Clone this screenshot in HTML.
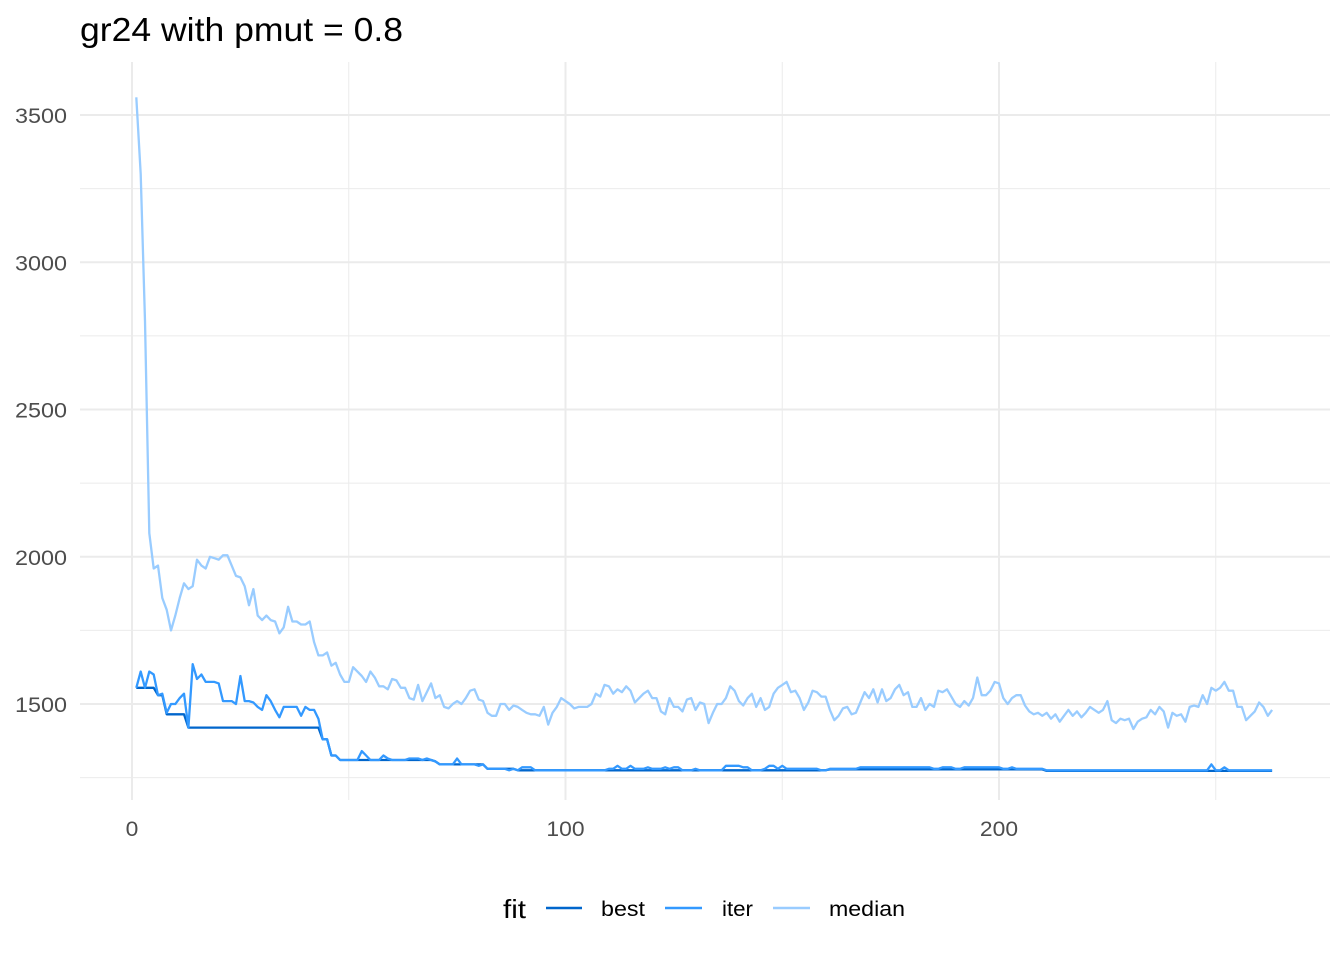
<!DOCTYPE html>
<html><head><meta charset="utf-8"><style>
body{margin:0;background:#fff;}
svg text{font-family:"Liberation Sans",sans-serif;}
</style></head><body>
<svg id="chart" width="1344" height="960" xmlns="http://www.w3.org/2000/svg">
<text x="80" y="41" font-size="33" fill="#000" textLength="323" lengthAdjust="spacingAndGlyphs">gr24 with pmut = 0.8</text>
<g id="grid"></g>
<g id="series"></g>
<g id="axes"></g>
<g id="legend">
<text x="503" y="918" font-size="26" fill="#000" textLength="23" lengthAdjust="spacingAndGlyphs">fit</text>
<line x1="546" y1="908" x2="582" y2="908" stroke="#0066cc" stroke-width="2.5"/>
<text x="601" y="916" font-size="21" fill="#000" textLength="44" lengthAdjust="spacingAndGlyphs">best</text>
<line x1="665" y1="908" x2="702" y2="908" stroke="#3399ff" stroke-width="2.5"/>
<text x="722" y="916" font-size="21" fill="#000" textLength="31" lengthAdjust="spacingAndGlyphs">iter</text>
<line x1="773" y1="908" x2="810" y2="908" stroke="#99ccff" stroke-width="2.5"/>
<text x="829" y="916" font-size="21" fill="#000" textLength="76" lengthAdjust="spacingAndGlyphs">median</text>
</g>
</svg>
<script>
const xTicks=[0,100,200];
const xMinor=[50,150,250];
const yTicks=[1500,2000,2500,3000,3500];
const yMinor=[1250,1750,2250,2750,3250];
const seriesNames=["best","iter","median"];
const seriesColors=["#0066cc","#3399ff","#99ccff"];
const bestValues=[1555,1555,1555,1555,1555,1530,1530,1465,1465,1465,1465,1465,1420,
1420,1420,1420,1420,1420,1420,1420,1420,1420,1420,1420,1420,1420,1420,1420,1420,1420,
1420,1420,1420,1420,1420,1420,1420,1420,1420,1420,1420,1420,1420,1380,1380,1325,1325,1310,
1310,1310,1310,1310,1310,1310,1310,1310,1310,1310,1310,1310,
1310,1310,1310,1310,1310,1310,1310,1310,1310,1305,1295,1295,
1295,1295,1295,1295,1295,1295,1295,1295,1295,1280,1280,1280,1280,
1280,1280,1280,1275,1275,1275,1275,1275,1275,1275,1275,1275,1275,1275,1275,
1275,1275,1275,1275,1275,1275,1275,1275,1275,1275,1275,1275,1275,1275,1275,1275,1275,1275,1275,1275,
1275,1275,1275,1275,1275,1275,1275,1275,1275,1275,1275,1275,1275,1275,1275,1275,1275,1275,1275,1275,
1275,1275,1275,1275,1275,1275,1275,1275,1275,1275,1275,1275,1275,1275,1275,1275,1275,1275,1275,1275,
1278,1278,1278,1278,1278,1278,1278,1278,1278,1278,1278,1278,1278,1278,1278,1278,1278,1278,1278,1278,
1278,1278,1278,1278,1278,1278,1278,1278,1278,1278,1278,1278,1278,1278,1278,1278,1278,1278,1278,1278,
1278,1278,1278,1278,1278,1278,1278,1278,1278,1278,
1273,1273,1273,1273,1273,1273,1273,1273,1273,1273,1273,1273,1273,1273,1273,1273,1273,1273,1273,1273,
1273,1273,1273,1273,1273,1273,1273,1273,1273,1273,1273,1273,1273,1273,1273,1273,1273,1273,1273,1273,
1273,1273,1273,1273,1273,1273,1273,1273,1273,1273,1273,1273,1273];
const iterValues=[1555,1610,1555,1610,1600,1530,1535,1470,1500,1500,1520,1535,1420,
1635,1585,1600,1575,1575,1575,1570,1510,1510,1510,1500,1595,1510,1510,1505,1490,1480,
1530,1510,1480,1455,1490,1490,1490,1490,1460,1490,1480,1480,1450,1380,1380,1325,1325,1310,
1310,1310,1310,1310,1340,1325,1310,1310,1310,1325,1315,1310,
1310,1310,1310,1315,1315,1315,1310,1315,1310,1305,1295,1295,
1295,1295,1315,1295,1295,1295,1295,1290,1295,1280,1280,1280,1280,
1280,1275,1280,1275,1285,1285,1285,1275,1275,1275,1275,1275,1275,1275,1275,
1275,1275,1275,1275,1275,1275,1275,1275,1275,1280,1280,1290,1280,1280,1290,1280,1280,1280,1285,1280,
1280,1280,1285,1280,1285,1285,1275,1275,1275,1280,1275,1275,1275,1275,1275,1275,1290,1290,1290,1290,
1285,1285,1275,1275,1275,1280,1290,1290,1280,1290,1280,1280,1280,1280,1280,1280,1280,1280,1275,1275,
1280,1280,1280,1280,1280,1280,1280,1285,1285,1285,1285,1285,1285,1285,1285,1285,1285,1285,1285,1285,
1285,1285,1285,1285,1280,1280,1285,1285,1285,1280,1280,1285,1285,1285,1285,1285,1285,1285,1285,1285,
1280,1280,1285,1280,1280,1280,1280,1280,1280,1280,
1275,1275,1275,1275,1275,1275,1275,1275,1275,1275,1275,1275,1275,1275,1275,1275,1275,1275,1275,1275,
1275,1275,1275,1275,1275,1275,1275,1275,1275,1275,1275,1275,1275,1275,1275,1275,1275,1275,1295,1275,
1275,1285,1275,1275,1275,1275,1275,1275,1275,1275,1275,1275,1275];
const medianValues=[3560,3300,2800,2080,1960,1970,1860,1820,1750,1800,1860,1910,1890,1900,1990,1970,1960,2000,1995,1990,
2005,2005,1970,1935,1930,1900,1835,1890,1800,1785,1800,1785,1780,1740,1760,1830,1780,1780,1770,1770,
1780,1710,1665,1665,1675,1630,1640,1600,1575,1575,1625,1610,1595,1575,1610,1590,1560,1560,1550,1585,
1580,1555,1555,1520,1515,1565,1510,1540,1570,1520,1530,1490,1485,1500,1510,1500,1520,1545,1550,1515,
1510,1470,1460,1460,1500,1500,1480,1495,1490,1480,1470,1465,1465,1460,1490,1430,1470,1490,1520,1510,
1500,1485,1490,1490,1490,1500,1535,1525,1565,1560,1535,1550,1540,1560,1545,1505,1520,1535,1545,1520,
1520,1475,1465,1520,1490,1490,1475,1515,1520,1480,1505,1500,1435,1470,1500,1500,1520,1560,1545,1510,
1495,1520,1535,1490,1520,1480,1490,1535,1555,1565,1575,1540,1545,1520,1480,1505,1545,1540,1525,1525,
1480,1445,1460,1485,1490,1465,1470,1505,1540,1520,1550,1505,1550,1510,1520,1550,1565,1530,1540,1490,
1490,1520,1480,1500,1490,1545,1540,1550,1525,1500,1490,1510,1495,1520,1590,1530,1530,1545,1575,1570,
1520,1500,1520,1530,1530,1495,1475,1465,1470,1460,1470,1450,1465,1440,1460,1480,1460,1475,1455,1470,
1490,1480,1470,1480,1510,1445,1435,1450,1445,1450,1415,1440,1450,1455,1480,1465,1490,1475,1420,1470,
1460,1465,1440,1490,1495,1490,1530,1500,1555,1545,1555,1575,1545,1545,1490,1490,1445,1460,1475,1505,
1490,1460,1480];
const allSeries=[bestValues,iterValues,medianValues];

const NS="http://www.w3.org/2000/svg";
const plotL=80,plotR=1330,plotT=62,plotB=800;
function xScale(v){return 132+v*4.335;}
function yScale(v){return 704-(v-1500)*0.2945;}
function mk(tag,attrs,parent){const e=document.createElementNS(NS,tag);for(const k in attrs)e.setAttribute(k,attrs[k]);parent.appendChild(e);return e;}
const grid=document.getElementById('grid'),axes=document.getElementById('axes'),ser=document.getElementById('series');
yMinor.forEach(v=>{const l=mk('line',{x1:plotL,x2:plotR,y1:yScale(v),y2:yScale(v),stroke:'#ebebeb','stroke-width':1},grid);

});
xMinor.forEach(v=>{const l=mk('line',{x1:xScale(v),x2:xScale(v),y1:plotT,y2:plotB,stroke:'#ebebeb','stroke-width':1},grid);

});
yTicks.forEach(v=>{const l=mk('line',{x1:plotL,x2:plotR,y1:yScale(v),y2:yScale(v),stroke:'#ebebeb','stroke-width':2},grid);


const t=mk('text',{x:67,y:yScale(v)+8,'text-anchor':'end','font-size':21,fill:'#4d4d4d',textLength:52,lengthAdjust:'spacingAndGlyphs'},axes);t.textContent=v;

});
xTicks.forEach(v=>{const l=mk('line',{x1:xScale(v),x2:xScale(v),y1:plotT,y2:plotB,stroke:'#ebebeb','stroke-width':2},grid);


const s=String(v);
const t=mk('text',{x:xScale(v),y:836,'text-anchor':'middle','font-size':21,fill:'#4d4d4d',textLength:s.length*12.7,lengthAdjust:'spacingAndGlyphs'},axes);t.textContent=s;

});
allSeries.forEach((vals,i)=>{
const pts=vals.map((v,j)=>xScale(j+1).toFixed(1)+','+yScale(v).toFixed(1)).join(' ');
const p=mk('polyline',{points:pts,fill:'none',stroke:seriesColors[i],'stroke-width':2.3,'stroke-linejoin':'round'},ser);


});
</script>
</body></html>
